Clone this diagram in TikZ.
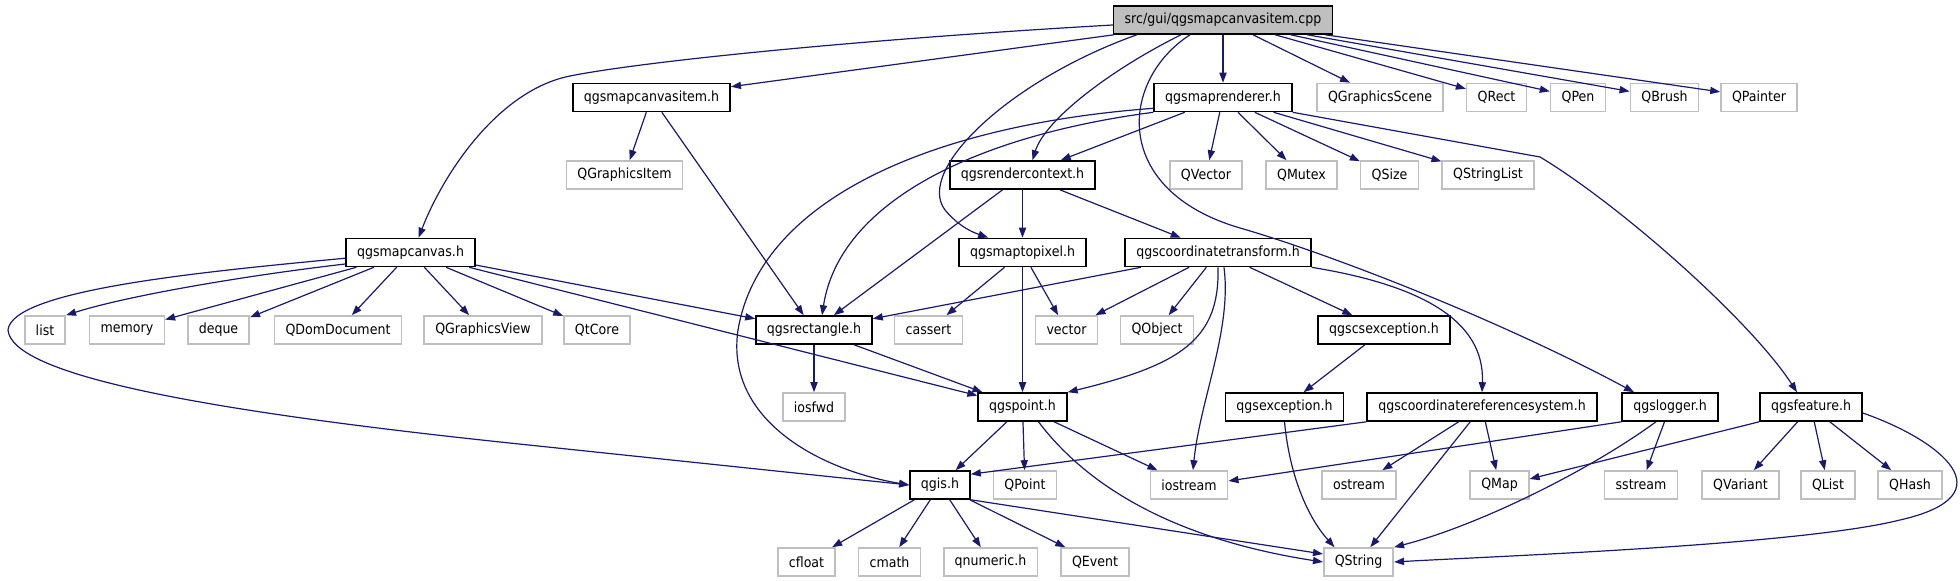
\documentclass[tikz,border=0pt]{standalone}
\usepackage{fontspec}
\setmainfont[FakeStretch=0.9]{DejaVu Sans}
\usetikzlibrary{arrows.meta}
\definecolor{edgeblue}{HTML}{191970}
\definecolor{extgray}{HTML}{BFBFBF}
\begin{document}
\begin{tikzpicture}[x=0.5pt, y=-0.5pt, font=\fontsize{7pt}{8pt}\selectfont,
  box/.style={draw, line width=0.8pt, inner xsep=5.5pt, inner ysep=0pt, minimum height=14pt},
  hdr/.style={box, draw=black},
  ext/.style={box, draw=extgray},
  dep/.style={draw=edgeblue, line width=0.6pt, -{Triangle[length=5pt,width=3.6pt]}}]
\useasboundingbox (0,0) rectangle (1960,581);
% row 0
\node[hdr, fill=extgray] (cpp) at (1223,20) {src/gui/qgsmapcanvasitem.cpp};
% row 1
\node[hdr] (mci) at (651.5,97.5) {qgsmapcanvasitem.h};
\node[hdr] (mr) at (1223,97.5) {qgsmaprenderer.h};
\node[ext] (qgs) at (1380,97.5) {QGraphicsScene};
\node[ext] (qrect) at (1496.5,97.5) {QRect};
\node[ext] (qpen) at (1578,97.5) {QPen};
\node[ext] (qbrush) at (1664.5,97.5) {QBrush};
\node[ext] (qpainter) at (1759,97.5) {QPainter};
% row 2
\node[ext] (qgi) at (624.5,175) {QGraphicsItem};
\node[hdr] (rc) at (1022.5,175) {qgsrendercontext.h};
\node[ext] (qvector) at (1206,175) {QVector};
\node[ext] (qmutex) at (1301.5,175) {QMutex};
\node[ext] (qsize) at (1389.5,175) {QSize};
\node[ext] (qstrlist) at (1488,175) {QStringList};
% row 3
\node[hdr] (mc) at (410.5,252.5) {qgsmapcanvas.h};
\node[hdr] (mtp) at (1022.5,252.5) {qgsmaptopixel.h};
\node[hdr] (ct) at (1218,252.5) {qgscoordinatetransform.h};
% row 4
\node[ext] (list) at (45,330) {list};
\node[ext] (memory) at (127,330) {memory};
\node[ext] (deque) at (218.5,330) {deque};
\node[ext] (qdom) at (338,330) {QDomDocument};
\node[ext] (qgview) at (483,330) {QGraphicsView};
\node[ext] (qtcore) at (597,330) {QtCore};
\node[hdr] (rect) at (814,330) {qgsrectangle.h};
\node[ext] (cassert) at (928.5,330) {cassert};
\node[ext] (vector) at (1066.5,330) {vector};
\node[ext] (qobject) at (1157,330) {QObject};
\node[hdr] (cse) at (1384,330) {qgscsexception.h};
% row 5
\node[ext] (iosfwd) at (814,407) {iosfwd};
\node[hdr] (pt) at (1022.5,407) {qgspoint.h};
\node[hdr] (exc) at (1284.5,407) {qgsexception.h};
\node[hdr] (crs) at (1482,407) {qgscoordinatereferencesystem.h};
\node[hdr] (lg) at (1670,407) {qgslogger.h};
\node[hdr] (ft) at (1811,407) {qgsfeature.h};
% row 6
\node[hdr] (qgis) at (940,485) {qgis.h};
\node[ext] (qpoint) at (1025,485) {QPoint};
\node[ext] (ios) at (1189,485) {iostream};
\node[ext] (ostream) at (1359,485) {ostream};
\node[ext] (qmap) at (1499.5,485) {QMap};
\node[ext] (sstream) at (1641,485) {sstream};
\node[ext] (qvariant) at (1740.5,485) {QVariant};
\node[ext] (qlist) at (1828,485) {QList};
\node[ext] (qhash) at (1910,485) {QHash};
% row 7
\node[ext] (cfloat) at (806.5,562) {cfloat};
\node[ext] (cmath) at (889.5,562) {cmath};
\node[ext] (qnumeric) at (990.5,562) {qnumeric.h};
\node[ext] (qevent) at (1095,562) {QEvent};
\node[ext] (qs) at (1358.5,562) {QString};
% src/gui/qgsmapcanvasitem.cpp
\draw[dep] ([yshift=-2.5pt]cpp.west) .. controls (850,40) and (640,62) .. (570,76) .. controls (500,90) and (445,170) .. ([xshift=4pt]mc.north);
\draw[dep] (cpp) -- (mci);
\draw[dep] ([xshift=12pt]cpp.south west) .. controls (1010,80) and (915,170) .. (945,210) .. controls (960,228) and (975,233) .. ([xshift=15pt]mtp.north west);
\draw[dep] ([xshift=-21pt]cpp.south) .. controls (1110,70) and (1045,120) .. ([xshift=5pt]rc.north);
\draw[dep] ([xshift=-16.5pt]cpp.south) .. controls (1120,80) and (1110,190) .. (1240,228) .. controls (1330,254) and (1500,320) .. ([xshift=-18pt]lg.north);
\draw[dep] (cpp) -- (mr);
\draw[dep] (cpp) -- (qgs);
\draw[dep] (cpp) -- (qrect);
\draw[dep] (cpp) -- (qpen);
\draw[dep] (cpp) -- (qbrush);
\draw[dep] (cpp) -- (qpainter);
% qgsmaprenderer.h
\draw[dep] (mr) -- (rc);
\draw[dep] (mr) -- (qvector);
\draw[dep] (mr) -- (qmutex);
\draw[dep] (mr) -- (qsize);
\draw[dep] (mr) -- (qstrlist);
\draw[dep] (mr.south east) -- (1540,157) .. controls (1620,205) and (1750,320) .. ([xshift=-7pt]ft.north);
\draw[dep] (mr.south west) .. controls (980,135) and (840,200) .. ([xshift=4pt]rect.north);
\draw[dep] ([yshift=2pt]mr.south west) .. controls (930,125) and (760,200) .. (738,330) .. controls (725,420) and (820,470) .. (qgis.west);
% qgsmapcanvasitem.h
\draw[dep] (mci) -- (qgi);
\draw[dep] (mci) -- (rect);
% qgsrendercontext.h
\draw[dep] (rc) -- (rect);
\draw[dep] (rc) -- (mtp);
\draw[dep] (rc) -- (ct);
% qgsmaptopixel.h
\draw[dep] (mtp) -- (cassert);
\draw[dep] (mtp) -- (vector);
\draw[dep] (mtp) -- (pt);
% qgscoordinatetransform.h
\draw[dep] (ct) -- (rect);
\draw[dep] (ct) -- (vector);
\draw[dep] (ct) -- (qobject);
\draw[dep] (ct) -- (cse);
\draw[dep] (ct.south) .. controls (1220,340) and (1180,365) .. (pt.north east);
\draw[dep] ([xshift=3pt]ct.south) .. controls (1232,330) and (1200,400) .. ([xshift=2pt]ios.north);
\draw[dep] (ct.south east) .. controls (1420,285) and (1485,320) .. (crs.north);
% qgsmapcanvas.h
\draw[dep] (mc.190) .. controls (250,275) and (130,295) .. (list.north east);
\draw[dep] (mc) -- (memory);
\draw[dep] (mc) -- (deque);
\draw[dep] (mc) -- (qdom);
\draw[dep] (mc) -- (qgview);
\draw[dep] (mc) -- (qtcore);
\draw[dep] (mc) -- (rect);
\draw[dep] (mc) -- (pt);
\draw[dep] (mc.185) .. controls (200,272) and (12,290) .. (8,330) .. controls (12,375) and (200,410) .. (500,442) -- (qgis.west);
% qgsrectangle.h, qgscsexception.h
\draw[dep] (rect) -- (iosfwd);
\draw[dep] (rect) -- (pt);
\draw[dep] (cse) -- (exc);
% qgspoint.h
\draw[dep] (pt) -- (qgis);
\draw[dep] (pt) -- (qpoint);
\draw[dep] (pt) -- (ios);
\draw[dep] ([xshift=8pt]pt.south) .. controls (1090,490) and (1180,540) .. (qs.west);
% qgsexception.h
\draw[dep] (exc.south) .. controls (1290,480) and (1310,520) .. ([xshift=-12pt]qs.north);
% qgscoordinatereferencesystem.h
\draw[dep] (crs.south west) -- ([yshift=-2pt]qgis.north east);
\draw[dep] (crs) -- (ostream);
\draw[dep] (crs) -- (qs);
\draw[dep] (crs) -- (qmap);
% qgslogger.h
\draw[dep] (lg.south west) -- ([yshift=2pt]ios.east);
\draw[dep] ([xshift=-7pt]lg.south) .. controls (1590,470) and (1480,525) .. (qs.north east);
\draw[dep] (lg) -- (sstream);
% qgsfeature.h
\draw[dep] (ft.south west) -- ([yshift=3pt]qmap.east);
\draw[dep] (ft) -- (qvariant);
\draw[dep] (ft) -- (qlist);
\draw[dep] (ft) -- (qhash);
\draw[dep] ([yshift=-3pt]ft.east) .. controls (1940,440) and (2010,495) .. (1900,520) .. controls (1800,545) and (1500,556) .. (qs.east);
% qgis.h
\draw[dep] (qgis) -- (cfloat);
\draw[dep] (qgis) -- (cmath);
\draw[dep] (qgis) -- (qnumeric);
\draw[dep] (qgis) -- (qevent);
\draw[dep] (qgis.south east) -- ([yshift=4pt]qs.west);
\end{tikzpicture}
\end{document}
